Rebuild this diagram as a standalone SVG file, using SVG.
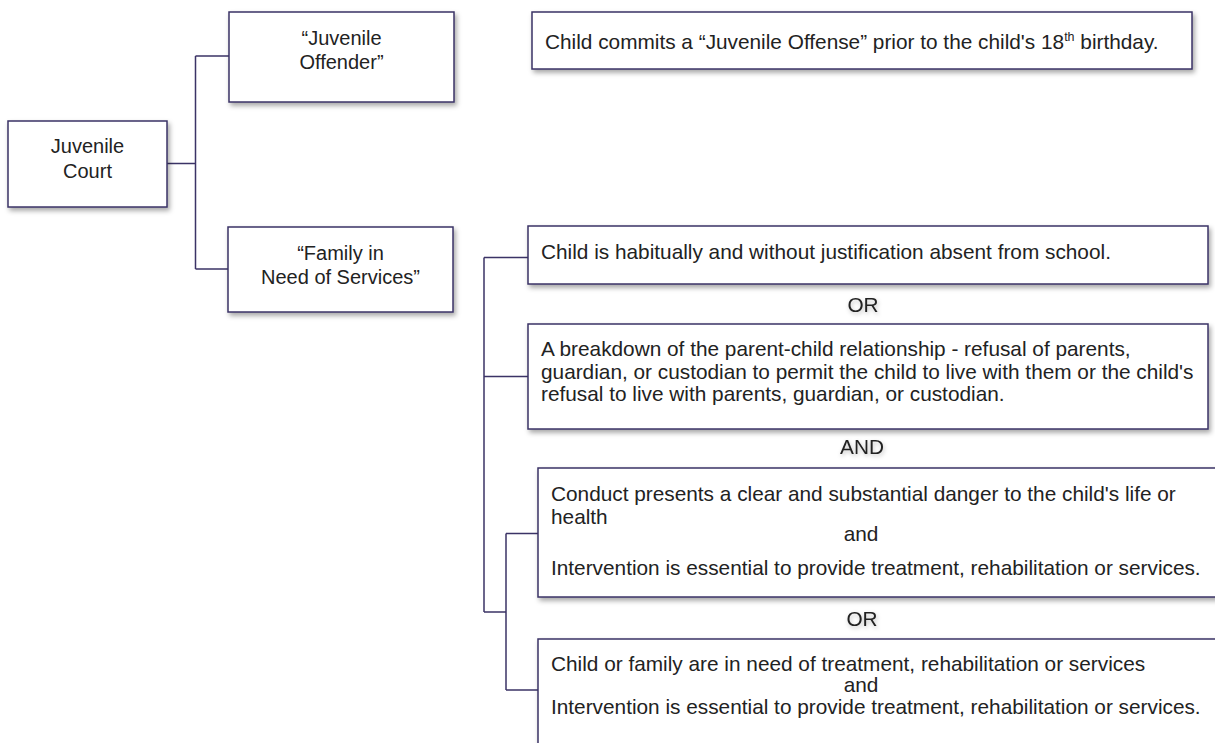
<svg xmlns="http://www.w3.org/2000/svg" width="1215" height="743" viewBox="0 0 1215 743">
<defs>
<filter id="sh" x="-5%" y="-10%" width="115%" height="130%">
<feDropShadow dx="2" dy="3" stdDeviation="2.5" flood-color="#000" flood-opacity="0.35"/>
</filter>
<filter id="tsh" x="-20%" y="-50%" width="140%" height="200%">
<feDropShadow dx="1" dy="2" stdDeviation="2" flood-color="#000" flood-opacity="0.25"/>
</filter>
<style>
.box{fill:#fff;stroke:#3b3366;stroke-width:1.5;filter:url(#sh)}
.ln{fill:none;stroke:#3b3366;stroke-width:1.5}
text{font-family:"Liberation Sans",Arial,sans-serif;font-size:20px;fill:#222}
.r{font-size:20.8px}
.c{text-anchor:middle}
.lbl{filter:url(#tsh)}
</style>
</defs>
<rect width="1215" height="743" fill="#fff"/>
<g id="connectors">
<path class="ln" d="M167,163.5 H195.5 M195.5,56 V269 M195.5,56 H229 M195.5,269 H228"/>
<path class="ln" d="M484,257.5 V612 M484,257.5 H528 M484,376.5 H528 M484,612 H506"/>
<path class="ln" d="M506,533.5 V690 M506,533.5 H538 M506,690 H538"/>
</g>
<g id="juvenile-court">
<rect class="box" x="8" y="121" width="159" height="86"/>
<text class="c" x="87.5" y="153">Juvenile</text>
<text class="c" x="87.5" y="177.5">Court</text>
</g>
<g id="juvenile-offender">
<rect class="box" x="229" y="12" width="225" height="90"/>
<text class="c" x="341.5" y="44.5">“Juvenile</text>
<text class="c" x="341.5" y="68.5">Offender”</text>
</g>
<g id="family-in-need">
<rect class="box" x="228" y="227" width="225" height="85"/>
<text class="c" x="340.5" y="259.5">“Family in</text>
<text class="c" x="340.5" y="284">Need of Services”</text>
</g>
<g id="offense-def">
<rect class="box" x="532" y="12" width="660" height="57"/>
<text class="r" x="545" y="49">Child commits a “Juvenile Offense” prior to the child's 18<tspan font-size="12.5" dy="-8">th</tspan><tspan dy="8"> birthday.</tspan></text>
</g>
<g id="absent-school">
<rect class="box" x="528" y="226" width="680" height="58"/>
<text class="r" x="541" y="259">Child is habitually and without justification absent from school.</text>
</g>
<g id="or-1"><text class="c r lbl" x="863" y="312">OR</text></g>
<g id="breakdown">
<rect class="box" x="528" y="324" width="680" height="105"/>
<text class="r" x="541" y="356">A breakdown of the parent-child relationship - refusal of parents,</text>
<text class="r" x="541" y="378.5">guardian, or custodian to permit the child to live with them or the child's</text>
<text class="r" x="541" y="401">refusal to live with parents, guardian, or custodian.</text>
</g>
<g id="and-1"><text class="c r lbl" x="862" y="454">AND</text></g>
<g id="danger">
<rect class="box" x="538" y="468" width="700" height="129"/>
<text class="r" x="551" y="501">Conduct presents a clear and substantial danger to the child's life or</text>
<text class="r" x="551" y="524">health</text>
<text class="c r" x="861" y="541">and</text>
<text class="r" x="551" y="575">Intervention is essential to provide treatment, rehabilitation or services.</text>
</g>
<g id="or-2"><text class="c r lbl" x="862" y="626">OR</text></g>
<g id="need-treatment">
<rect class="box" x="538" y="639" width="700" height="130"/>
<text class="r" x="551" y="671">Child or family are in need of treatment, rehabilitation or services</text>
<text class="c r" x="861" y="692">and</text>
<text class="r" x="551" y="714">Intervention is essential to provide treatment, rehabilitation or services.</text>
</g>
</svg>
